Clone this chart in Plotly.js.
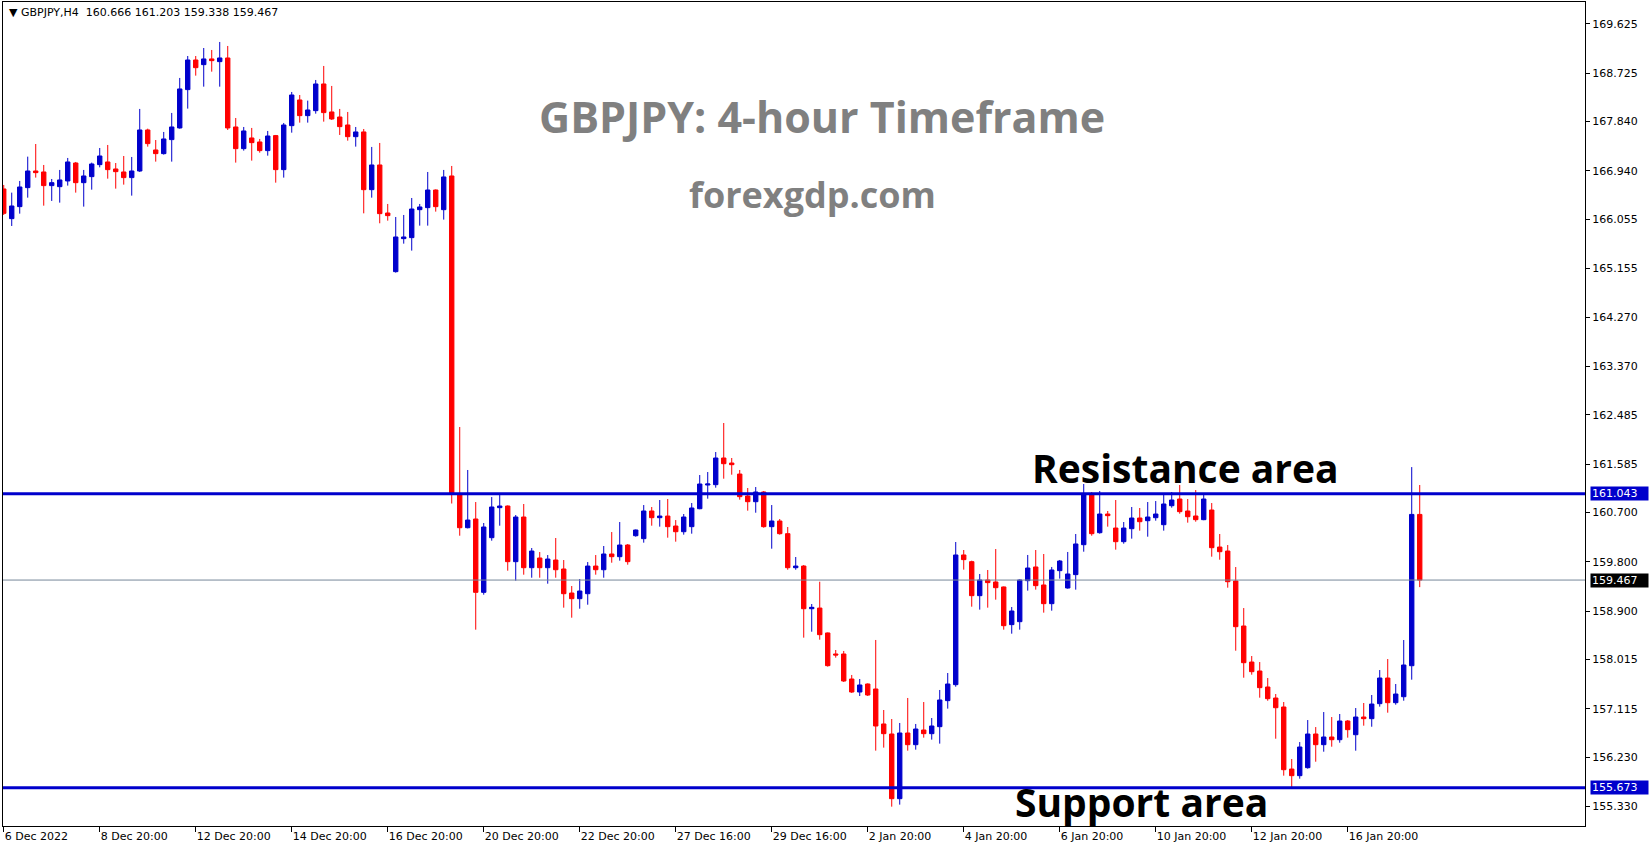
<!DOCTYPE html>
<html>
<head>
<meta charset="utf-8">
<script src="https://cdn.plot.ly/plotly-3.0.1.min.js"></script>
<style>
html,body{margin:0;padding:0;background:#fff;overflow:hidden;}
#chart{width:1649px;height:850px;}
</style>
</head>
<body>
<div id="chart"></div>
<script>
// ---- Data (GBPJPY H4) ----
const symbol = "GBPJPY,H4";

const openP = [
166.609,166.067,166.286,166.633,166.937,166.919,166.670,166.651,166.755,167.083,
166.724,166.834,167.053,167.102,166.974,166.919,166.816,166.937,167.686,167.321,
167.254,167.510,167.723,168.423,168.964,168.879,168.983,168.934,169.001,167.741,
167.345,167.540,167.467,167.309,167.583,166.962,167.765,168.234,167.948,168.039,
168.526,168.015,167.923,167.777,167.564,167.650,166.596,167.047,166.170,165.099,
165.702,165.720,166.231,166.268,166.590,166.231,166.846,161.020,160.423,160.582,
159.243,160.241,160.789,160.819,159.803,160.618,159.693,159.870,159.693,159.833,
159.669,159.230,159.127,159.218,159.723,159.656,159.943,159.894,160.107,160.277,
160.223,160.728,160.606,160.636,160.454,160.350,160.442,160.770,161.203,161.209,
161.696,161.604,161.403,161.002,160.898,161.075,160.442,160.545,160.314,159.693,
159.723,158.944,158.956,158.501,158.117,158.117,157.660,157.423,157.569,157.478,
156.839,156.656,155.475,156.674,156.461,156.729,156.662,156.790,157.265,157.557,
159.925,159.803,159.182,159.468,159.432,159.341,158.653,158.707,159.456,159.706,
159.377,159.036,159.639,159.322,159.566,160.113,161.020,160.332,160.673,160.417,
160.168,160.405,160.600,160.551,160.606,160.478,160.825,160.947,160.728,160.637,
160.570,160.746,160.070,159.997,159.450,158.628,157.970,157.806,157.514,157.313,
157.149,156.016,155.895,156.041,156.656,156.461,156.601,156.552,156.893,156.643,
156.966,156.936,157.210,157.678,157.228,157.337,157.903,160.666];

const highP = [
166.682,166.542,166.755,167.199,167.430,167.047,166.791,166.956,167.175,167.102,
166.956,167.090,167.357,167.412,167.083,167.211,167.193,168.070,167.710,167.503,
167.650,167.997,168.636,169.037,169.037,169.183,169.147,169.293,169.220,167.905,
167.741,167.723,167.522,167.668,167.595,167.814,168.380,168.325,168.222,168.599,
168.855,168.490,168.070,168.015,167.741,167.704,167.376,167.449,166.335,166.097,
166.134,166.444,166.335,166.919,166.600,166.956,167.029,162.262,161.477,160.892,
160.509,160.983,161.020,160.830,160.655,160.856,160.052,159.979,159.924,160.235,
159.833,159.358,159.486,159.796,159.924,160.089,160.344,160.527,160.125,160.390,
160.837,160.801,160.929,160.947,160.563,160.673,160.874,161.385,161.440,161.805,
162.335,161.696,161.477,161.148,161.166,161.093,160.837,160.582,160.436,159.888,
159.742,159.030,159.437,158.510,158.190,158.172,157.734,157.660,157.580,158.373,
157.094,156.930,156.857,157.314,156.839,157.240,156.948,157.460,157.770,160.162,
160.016,159.821,159.578,159.651,160.034,159.350,158.975,159.480,159.925,160.016,
159.943,159.706,159.834,159.980,160.308,161.221,161.075,161.093,160.728,160.929,
160.527,160.801,160.783,160.892,160.910,161.038,161.075,161.203,160.947,161.111,
161.038,160.874,160.308,160.107,159.705,158.956,158.080,157.970,157.678,157.386,
157.240,156.199,156.509,156.911,156.783,157.057,156.966,157.021,156.911,157.130,
157.222,157.368,157.824,158.025,157.569,158.372,161.530,161.203];

const lowP = [
166.134,165.933,166.158,166.450,166.816,166.304,166.390,166.359,166.670,166.542,
166.286,166.596,167.004,166.797,166.615,166.688,166.487,166.919,167.382,167.108,
167.236,167.108,167.710,168.076,168.678,168.477,168.751,168.477,167.686,167.090,
167.309,167.126,167.272,167.217,166.724,166.816,167.637,167.820,167.820,167.984,
167.838,167.869,167.595,167.491,167.382,166.164,166.450,165.982,166.030,165.081,
165.610,165.483,165.939,165.939,166.195,166.049,160.865,160.277,160.410,158.561,
159.200,160.186,160.460,159.638,159.456,159.565,159.510,159.510,159.401,159.510,
158.963,158.780,158.944,159.017,159.565,159.510,159.784,159.821,159.748,160.259,
160.150,160.460,160.442,160.241,160.168,160.296,160.314,160.760,160.953,161.154,
161.318,161.391,160.935,160.734,160.697,160.423,160.040,160.296,159.656,159.656,
158.415,158.524,158.378,157.886,158.050,157.606,157.405,157.350,157.350,156.352,
156.407,155.329,155.366,156.352,156.370,156.589,156.553,156.480,157.119,157.520,
159.657,158.981,158.927,158.963,159.109,158.561,158.488,158.561,159.274,159.292,
158.872,158.908,159.493,159.310,159.292,159.985,160.277,160.314,160.442,160.022,
160.131,160.223,160.369,160.259,160.551,160.369,160.789,160.679,160.515,160.533,
160.560,159.894,159.839,159.328,158.177,157.684,157.739,157.319,157.264,156.570,
155.895,155.663,155.840,156.023,156.150,156.333,156.424,156.497,156.589,156.351,
156.808,156.789,157.155,157.045,157.191,157.264,157.648,159.338];

const closeP = [
166.164,166.298,166.645,166.937,166.907,166.670,166.724,166.773,167.102,166.724,
166.846,167.065,167.211,166.962,166.925,166.816,166.937,167.686,167.437,167.254,
167.522,167.741,168.435,168.964,168.824,168.983,168.952,169.001,167.723,167.345,
167.668,167.455,167.309,167.576,166.962,167.777,168.325,167.948,168.051,168.526,
168.003,167.887,167.747,167.564,167.650,166.596,167.047,166.158,166.122,165.732,
165.732,166.243,166.280,166.590,166.286,166.828,161.051,160.423,160.563,159.243,
160.436,160.801,160.819,159.803,160.618,159.693,159.997,159.693,159.851,159.656,
159.218,159.127,159.267,159.723,159.656,159.943,159.894,160.107,159.803,160.381,
160.728,160.606,160.636,160.442,160.350,160.618,160.783,161.221,161.221,161.696,
161.592,161.574,160.990,160.898,161.075,160.442,160.545,160.314,159.693,159.723,
158.944,158.969,158.470,157.904,158.099,157.624,157.423,157.551,157.368,156.802,
156.662,155.475,156.674,156.461,156.747,156.662,156.802,157.277,157.569,159.925,
159.840,159.182,159.468,159.420,159.328,158.634,158.902,159.468,159.687,159.365,
159.036,159.651,159.815,159.578,160.126,161.020,160.314,160.673,160.643,160.168,
160.417,160.600,160.533,160.618,160.673,160.856,160.929,160.716,160.624,160.570,
160.947,160.058,159.985,159.437,158.616,157.958,157.794,157.502,157.301,157.136,
156.004,155.895,156.418,156.656,156.461,156.601,156.552,156.893,156.735,156.966,
156.936,157.203,157.678,157.228,157.386,157.916,160.666,159.467];

// time-axis labels and the bar they belong to
const timeLabels = ["6 Dec 2022","8 Dec 20:00","12 Dec 20:00","14 Dec 20:00","16 Dec 20:00",
  "20 Dec 20:00","22 Dec 20:00","27 Dec 16:00","29 Dec 16:00","2 Jan 20:00",
  "4 Jan 20:00","6 Jan 20:00","10 Jan 20:00","12 Jan 20:00","16 Jan 20:00"];
const timeLabelBars = [0,12,24,36,48,60,72,84,96,108,120,132,144,156,168];

// price scale labels
const priceTicks = [169.625,168.725,167.840,166.940,166.055,165.155,164.270,163.370,
  162.485,161.585,160.700,159.800,158.900,158.015,157.115,156.230,155.330];

// levels
const resistanceLevel = 161.043;
const supportLevel = 155.673;
const bidLevel = 159.467;

// ---- Chart ----
const barIndex = openP.map((_, i) => i);
const BLUE = '#0000CC', RED = '#FF0000';

const trace = {
  type: 'candlestick',
  x: barIndex, open: openP, high: highP, low: lowP, close: closeP,
  increasing: {line: {color: BLUE, width: 1}, fillcolor: BLUE},
  decreasing: {line: {color: RED, width: 1}, fillcolor: RED},
  whiskerwidth: 0,
  hoverinfo: 'skip',
  showlegend: false
};

const n = openP.length;
const last = n - 1;
const header = '▼ ' + symbol + '  ' + openP[last].toFixed(3) + ' ' + highP[last].toFixed(3) + ' ' +
  lowP[last].toFixed(3) + ' ' + closeP[last].toFixed(3);

function priceBox(v, bg) {
  return {xref: 'paper', yref: 'y', x: 1, y: v, xanchor: 'left', yanchor: 'middle',
    xshift: 5, text: v.toFixed(3), showarrow: false, bgcolor: bg, borderpad: 1,
    width: 55, height: 11, align: 'left',
    font: {family: 'DejaVu Sans', size: 11, color: '#FFFFFF'}};
}

const layout = {
  width: 1649, height: 850,
  margin: {l: 3, r: 64, t: 2, b: 24, pad: 0},
  paper_bgcolor: '#FFFFFF', plot_bgcolor: '#FFFFFF',
  font: {family: 'DejaVu Sans', size: 11, color: '#000000'},
  boxgap: 0.45, boxgroupgap: 0,
  showlegend: false,
  xaxis: {
    range: [-0.09, 197.66], showgrid: false, zeroline: false,
    rangeslider: {visible: false},
    tickmode: 'array', tickvals: timeLabelBars, ticktext: timeLabels,
    ticks: 'outside', ticklen: 5, tickcolor: '#000', tickwidth: 1,
    ticklabelposition: 'outside right',
    showline: true, mirror: true, linecolor: '#000', linewidth: 1,
    tickfont: {family: 'DejaVu Sans', size: 11, color: '#000'}
  },
  yaxis: {
    side: 'right', range: [154.976, 170.023], showgrid: false, zeroline: false,
    tickmode: 'array', tickvals: priceTicks, ticktext: priceTicks.map(v => v.toFixed(3)),
    ticks: 'outside', ticklen: 4, tickcolor: '#000', tickwidth: 1,
    showline: true, mirror: true, linecolor: '#000', linewidth: 1,
    tickfont: {family: 'DejaVu Sans', size: 11, color: '#000'}
  },
  shapes: [
    {type: 'line', xref: 'paper', x0: 0, x1: 1, yref: 'y', y0: bidLevel, y1: bidLevel,
     line: {color: '#778899', width: 1}, layer: 'above'},
    {type: 'line', xref: 'paper', x0: 0, x1: 1, yref: 'y', y0: resistanceLevel, y1: resistanceLevel,
     line: {color: BLUE, width: 3}, layer: 'above'},
    {type: 'line', xref: 'paper', x0: 0, x1: 1, yref: 'y', y0: supportLevel, y1: supportLevel,
     line: {color: BLUE, width: 3}, layer: 'above'}
  ],
  annotations: [
    {xref: 'paper', yref: 'paper', x: 0, y: 1, xanchor: 'left', yanchor: 'top', xshift: 4, yshift: -2,
     text: header, showarrow: false, font: {family: 'DejaVu Sans', size: 11, color: '#000'}},
    {xref: 'paper', yref: 'paper', x: 0.5177, y: 0.861, xanchor: 'center', yanchor: 'middle',
     text: 'GBPJPY: 4-hour Timeframe', showarrow: false,
     font: {family: 'Open Sans', size: 43, color: '#808080', weight: 700}},
    {xref: 'paper', yref: 'paper', x: 0.512, y: 0.766, xanchor: 'center', yanchor: 'middle',
     text: 'forexgdp.com', showarrow: false,
     font: {family: 'Open Sans', size: 36, color: '#808080', weight: 700}},
    {xref: 'paper', yref: 'paper', x: 0.7472, y: 0.4354, xanchor: 'center', yanchor: 'middle',
     text: 'Resistance area', showarrow: false,
     font: {family: 'Open Sans', size: 39, color: '#000000', weight: 700}},
    {xref: 'paper', yref: 'paper', x: 0.7198, y: 0.0295, xanchor: 'center', yanchor: 'middle',
     text: 'Support area', showarrow: false,
     font: {family: 'Open Sans', size: 39, color: '#000000', weight: 700}},
    priceBox(resistanceLevel, BLUE),
    priceBox(supportLevel, BLUE),
    priceBox(bidLevel, '#000000')
  ]
};

Plotly.newPlot('chart', [trace], layout, {displayModeBar: false, staticPlot: true});
</script>
</body>
</html>
